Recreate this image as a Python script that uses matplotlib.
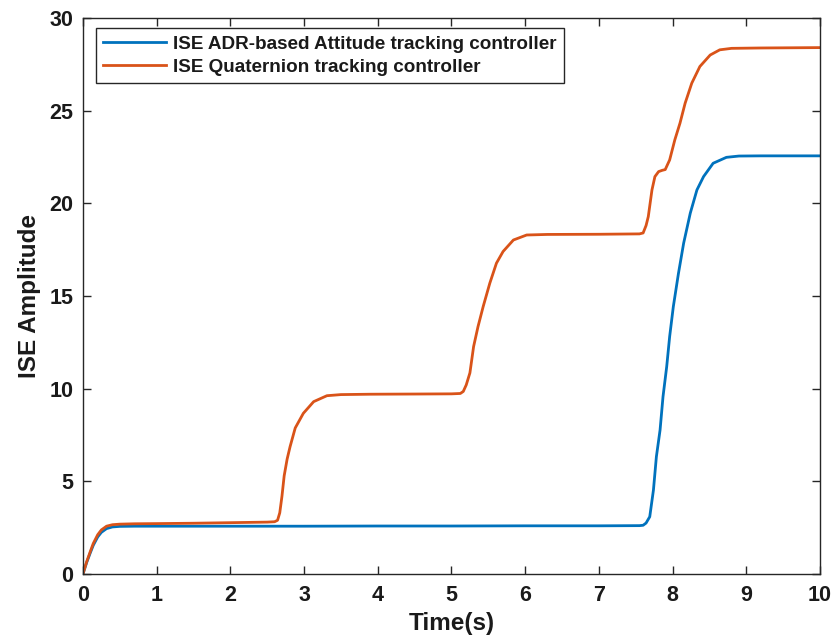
import matplotlib
matplotlib.use("Agg")
import matplotlib.pyplot as plt

plt.rcParams['font.family'] = ['Liberation Sans', 'DejaVu Sans']
plt.rcParams['font.weight'] = 'bold'

# ISE ADR-based Attitude tracking controller
t_adr = [0, 0.05, 0.1, 0.14, 0.2, 0.25, 0.32, 0.4, 0.5, 0.7, 1, 2, 3, 4, 5, 6, 7,
         7.55, 7.6, 7.64, 7.69, 7.74, 7.78, 7.83, 7.87, 7.92, 7.96, 8.01, 8.08,
         8.15, 8.24, 8.33, 8.42, 8.55, 8.73, 8.9, 9.2, 10]
v_adr = [0, 0.62, 1.15, 1.55, 2.0, 2.25, 2.45, 2.54, 2.57, 2.58, 2.58, 2.58, 2.58,
         2.59, 2.59, 2.6, 2.6, 2.61, 2.63, 2.75, 3.09, 4.53, 6.33, 7.77, 9.57,
         11.19, 12.81, 14.43, 16.23, 17.85, 19.47, 20.72, 21.44, 22.16, 22.48,
         22.55, 22.56, 22.56]

# ISE Quaternion tracking controller
t_q = [0, 0.05, 0.1, 0.14, 0.2, 0.25, 0.32, 0.4, 0.5, 0.7, 1, 1.5, 2, 2.5, 2.6,
       2.64, 2.67, 2.7, 2.73, 2.77, 2.81, 2.88, 2.99, 3.13, 3.31, 3.5, 3.9, 4.5,
       5.0, 5.12, 5.16, 5.2, 5.25, 5.3, 5.36, 5.43, 5.52, 5.61, 5.7, 5.84, 6.02,
       6.3, 7.0, 7.55, 7.6, 7.64, 7.67, 7.72, 7.76, 7.81, 7.86, 7.9, 7.96, 8.03,
       8.1, 8.17, 8.26, 8.37, 8.51, 8.64, 8.8, 9.2, 10]
v_q = [0, 0.66, 1.22, 1.65, 2.12, 2.38, 2.58, 2.66, 2.69, 2.71, 2.72, 2.74, 2.77,
       2.8, 2.82, 2.9, 3.3, 4.2, 5.3, 6.2, 6.87, 7.88, 8.67, 9.3, 9.62, 9.68,
       9.7, 9.71, 9.72, 9.74, 9.85, 10.2, 10.85, 12.27, 13.35, 14.43, 15.69,
       16.77, 17.4, 18.02, 18.29, 18.32, 18.33, 18.35, 18.4, 18.8, 19.28, 20.72,
       21.44, 21.71, 21.78, 21.82, 22.34, 23.42, 24.32, 25.4, 26.48, 27.38, 28.0,
       28.28, 28.36, 28.38, 28.4]

fig = plt.figure(figsize=(8.33, 6.41), dpi=100)
ax = fig.add_axes([0.0996, 0.1045, 0.8848, 0.8675])

ax.plot(t_adr, v_adr, color='#0072BD', linewidth=2,
        label='ISE ADR-based Attitude tracking controller')
ax.plot(t_q, v_q, color='#D95319', linewidth=2,
        label='ISE Quaternion tracking controller')

ax.set_xlim(0, 10)
ax.set_ylim(0, 30)
ax.set_xticks(range(0, 11))
ax.set_yticks(range(0, 31, 5))
ax.tick_params(direction='in', top=True, right=True, length=6, width=1,
               labelsize=15.5, color='#262626', labelcolor='#1a1a1a')
ax.tick_params(axis='x', pad=8)
ax.tick_params(axis='y', pad=7)
for lab in ax.get_xticklabels() + ax.get_yticklabels():
    lab.set_fontweight('bold')
for s in ax.spines.values():
    s.set_color('#262626')
    s.set_linewidth(1)

ax.set_xlabel('Time(s)', fontsize=17.5, fontweight='bold', labelpad=4,
              color='#1a1a1a')
ax.set_ylabel('ISE Amplitude', fontsize=17.5, fontweight='bold', labelpad=6,
              color='#1a1a1a')

leg = ax.legend(loc='upper left', bbox_to_anchor=(0.0176, 0.982), borderaxespad=0,
                fancybox=False, edgecolor='#262626', framealpha=1,
                prop={'size': 13.6, 'weight': 'bold'}, handlelength=3.3,
                handletextpad=0.4, labelspacing=0.3, borderpad=0.4)
leg.get_frame().set_linewidth(1)
for txt in leg.get_texts():
    txt.set_color('#1a1a1a')

fig.savefig('out.png', dpi=100)
